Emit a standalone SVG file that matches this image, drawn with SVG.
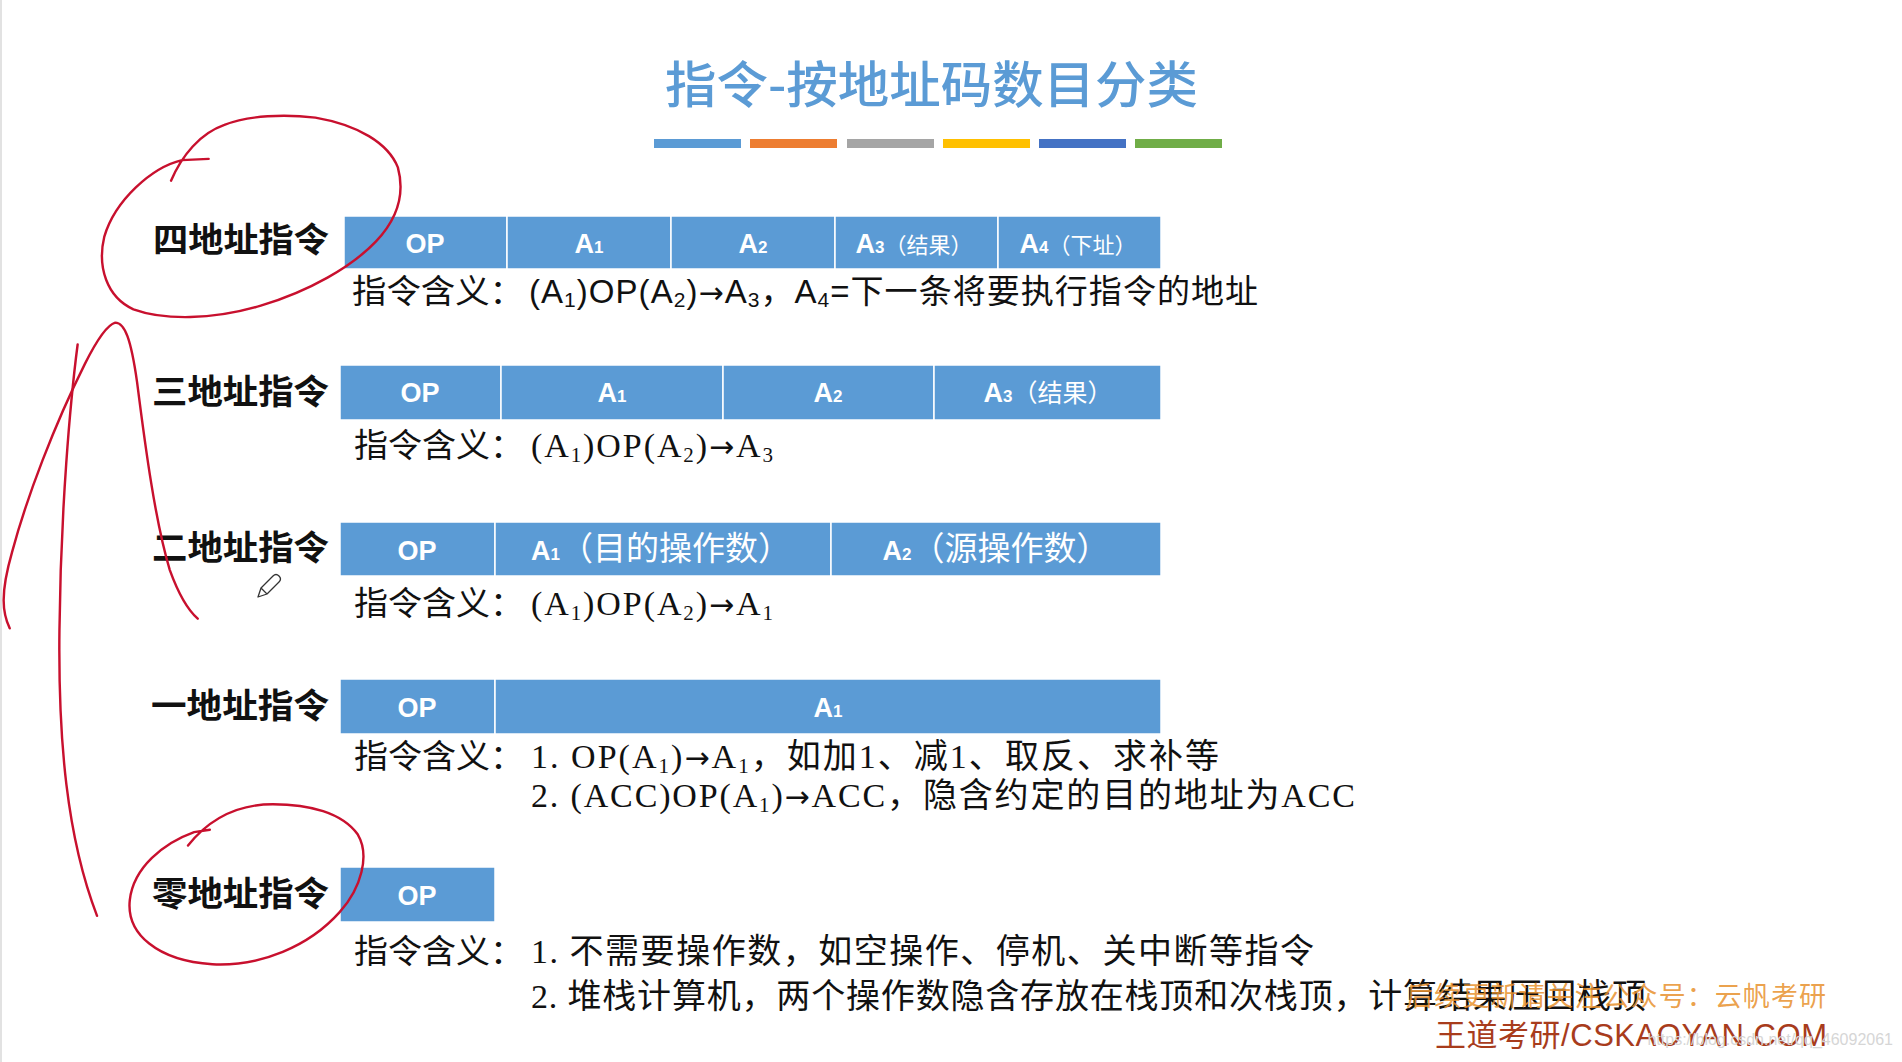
<svg xmlns="http://www.w3.org/2000/svg" width="1902" height="1062" viewBox="0 0 1902 1062">
<style>
.title{font-family:'Noto Sans CJK SC',sans-serif;font-weight:500;font-size:50px;fill:#5b9bd5}
.lbl{font-family:'Noto Sans CJK SC',sans-serif;font-weight:700;font-size:34px;fill:#111}
.cell{fill:#5b9bd5;stroke:#ffffff;stroke-width:1.5}
.ct{font-family:'Liberation Sans','Noto Sans CJK SC',sans-serif;font-weight:700;font-size:27px;fill:#fff;text-anchor:middle}
.cs{font-size:17px}
.cn{font-family:'Noto Sans CJK SC',sans-serif;font-weight:400;font-size:22px}
.cn2{font-family:'Noto Sans CJK SC',sans-serif;font-weight:400;font-size:33px}
.m1{font-family:'Liberation Sans','Noto Sans CJK SC',sans-serif;font-size:33px;fill:#111}
.m{font-family:'Liberation Serif','Noto Sans CJK SC',serif;font-size:34px;fill:#111}
.pre{font-family:'Noto Sans CJK SC',sans-serif;font-size:33px;fill:#111}
.sb{font-size:21px}
.ar{font-family:'DejaVu Sans',sans-serif;font-size:30px}
.ink{fill:none;stroke:#c8102e;stroke-width:2;stroke-linecap:round;stroke-linejoin:round}
</style>
<rect x="0" y="0" width="1902" height="1062" fill="#ffffff"/>
<line x1="1" y1="0" x2="1" y2="1062" stroke="#e2e2e2" stroke-width="2"/>

<g id="title">
<text class="title" x="665" y="103" textLength="533" lengthAdjust="spacingAndGlyphs">指令-按地址码数目分类</text>
<rect x="654" y="139" width="87" height="9" fill="#5b9bd5"/>
<rect x="750" y="139" width="87" height="9" fill="#ed7d31"/>
<rect x="847" y="139" width="87" height="9" fill="#a5a5a5"/>
<rect x="943" y="139" width="87" height="9" fill="#ffc000"/>
<rect x="1039" y="139" width="87" height="9" fill="#4472c4"/>
<rect x="1135" y="139" width="87" height="9" fill="#70ad47"/>
</g>

<g id="row4addr">
<text class="lbl" x="153" y="252" textLength="176" lengthAdjust="spacingAndGlyphs">四地址指令</text>
<rect class="cell" x="344" y="216" width="163" height="53"/>
<rect class="cell" x="507" y="216" width="164" height="53"/>
<rect class="cell" x="671" y="216" width="164" height="53"/>
<rect class="cell" x="835" y="216" width="163" height="53"/>
<rect class="cell" x="998" y="216" width="163" height="53"/>
<text class="ct" x="425" y="253">OP</text>
<text class="ct" x="589" y="253">A<tspan class="cs">1</tspan></text>
<text class="ct" x="753" y="253">A<tspan class="cs">2</tspan></text>
<text class="ct" x="914" y="253">A<tspan class="cs">3</tspan><tspan class="cn">（结果）</tspan></text>
<text class="ct" x="1078" y="253">A<tspan class="cs">4</tspan><tspan class="cn">（下址）</tspan></text>
<text class="pre" x="352" y="303" textLength="172" lengthAdjust="spacingAndGlyphs">指令含义：</text>
<text class="m1" x="529" y="303" textLength="729" lengthAdjust="spacing">(A<tspan class="sb" dy="4">1</tspan><tspan dy="-4">)OP(A</tspan><tspan class="sb" dy="4">2</tspan><tspan dy="-4">)</tspan><tspan class="ar">→</tspan>A<tspan class="sb" dy="4">3</tspan><tspan dy="-4">，A</tspan><tspan class="sb" dy="4">4</tspan><tspan dy="-4">=下一条将要执行指令的地址</tspan></text>
</g>

<g id="row3addr">
<text class="lbl" x="152" y="404" textLength="177" lengthAdjust="spacingAndGlyphs">三地址指令</text>
<rect class="cell" x="340" y="365" width="161" height="55"/>
<rect class="cell" x="501" y="365" width="222" height="55"/>
<rect class="cell" x="723" y="365" width="211" height="55"/>
<rect class="cell" x="934" y="365" width="227" height="55"/>
<text class="ct" x="420" y="402">OP</text>
<text class="ct" x="612" y="402">A<tspan class="cs">1</tspan></text>
<text class="ct" x="828" y="402">A<tspan class="cs">2</tspan></text>
<text class="ct" x="1048" y="402">A<tspan class="cs">3</tspan><tspan class="cn" style="font-size:25px">（结果）</tspan></text>
<text class="pre" x="354" y="457" textLength="170" lengthAdjust="spacingAndGlyphs">指令含义：</text>
<text class="m" x="531" y="457" textLength="242" lengthAdjust="spacing">(A<tspan class="sb" dy="5">1</tspan><tspan dy="-5">)OP(A</tspan><tspan class="sb" dy="5">2</tspan><tspan dy="-5">)</tspan><tspan class="ar">→</tspan>A<tspan class="sb" dy="5">3</tspan></text>
</g>

<g id="row2addr">
<text class="lbl" x="152" y="560" textLength="177" lengthAdjust="spacingAndGlyphs">二地址指令</text>
<rect class="cell" x="340" y="522" width="155" height="54"/>
<rect class="cell" x="495" y="522" width="336" height="54"/>
<rect class="cell" x="831" y="522" width="330" height="54"/>
<text class="ct" x="417" y="560">OP</text>
<text class="ct" x="661" y="560">A<tspan class="cs">1</tspan><tspan class="cn2">（目的操作数）</tspan></text>
<text class="ct" x="996" y="560">A<tspan class="cs">2</tspan><tspan class="cn2">（源操作数）</tspan></text>
<text class="pre" x="354" y="615" textLength="170" lengthAdjust="spacingAndGlyphs">指令含义：</text>
<text class="m" x="531" y="615" textLength="242" lengthAdjust="spacing">(A<tspan class="sb" dy="5">1</tspan><tspan dy="-5">)OP(A</tspan><tspan class="sb" dy="5">2</tspan><tspan dy="-5">)</tspan><tspan class="ar">→</tspan>A<tspan class="sb" dy="5">1</tspan></text>
</g>

<g id="row1addr">
<text class="lbl" x="151" y="718" textLength="178" lengthAdjust="spacingAndGlyphs">一地址指令</text>
<rect class="cell" x="340" y="679" width="155" height="55"/>
<rect class="cell" x="495" y="679" width="666" height="55"/>
<text class="ct" x="417" y="717">OP</text>
<text class="ct" x="828" y="717">A<tspan class="cs">1</tspan></text>
<text class="pre" x="354" y="768" textLength="170" lengthAdjust="spacingAndGlyphs">指令含义：</text>
<text class="m" x="531" y="768" textLength="688" lengthAdjust="spacing">1. OP(A<tspan class="sb" dy="5">1</tspan><tspan dy="-5">)</tspan><tspan class="ar">→</tspan>A<tspan class="sb" dy="5">1</tspan><tspan dy="-5">，如加1、减1、取反、求补等</tspan></text>
<text class="m" x="531" y="807" textLength="824" lengthAdjust="spacing">2. (ACC)OP(A<tspan class="sb" dy="5">1</tspan><tspan dy="-5">)</tspan><tspan class="ar">→</tspan>ACC，隐含约定的目的地址为ACC</text>
</g>

<g id="row0addr">
<text class="lbl" x="152" y="906" textLength="177" lengthAdjust="spacingAndGlyphs">零地址指令</text>
<rect class="cell" x="340" y="867" width="155" height="55"/>
<text class="ct" x="417" y="905">OP</text>
<text class="pre" x="354" y="963" textLength="170" lengthAdjust="spacingAndGlyphs">指令含义：</text>
<text class="m" x="531" y="963" textLength="783" lengthAdjust="spacing">1. 不需要操作数，如空操作、停机、关中断等指令</text>
<text class="m" x="531" y="1008" textLength="1115" lengthAdjust="spacing">2. 堆栈计算机，两个操作数隐含存放在栈顶和次栈顶，计算结果压回栈顶</text>
</g>

<g id="watermark">
<text x="1406" y="1006" font-family="'Noto Sans CJK SC',sans-serif" font-size="27" fill="#e8912e" fill-opacity="0.85" textLength="420" lengthAdjust="spacing">后续更新请关注公众号：云帆考研</text>
<text x="1435" y="1046" font-family="'Liberation Sans','Noto Sans CJK SC',sans-serif" font-size="31" fill="#a83c1c" textLength="392" lengthAdjust="spacing">王道考研/CSKAOYAN.COM</text>
<text x="1893" y="1045" text-anchor="end" font-family="'Liberation Sans',sans-serif" font-size="16" fill="#d6d6d6">https://blog.csdn.net/qq_46092061</text>
</g>

<g id="annotations">
<g transform="scale(1.213)">
<path class="ink" d="M172,131 L150,132 C125,138 95,165 86,195 C80,220 88,245 110,255 C135,264 175,264 215,252 C255,240 290,220 310,199 C328,180 334,160 328,138 C320,118 295,103 260,97 C235,94 205,95 185,103 C165,110 150,128 141,149"/>
<path class="ink" d="M8,518 C2,505 0,490 10,455 C22,410 45,350 70,300 C80,280 88,268 95,266 C103,266 108,280 113,315 C120,370 128,430 140,470 C148,492 155,503 163,510"/>
<path class="ink" d="M64,284 C58,330 50,420 49,520 C48,610 55,690 80,755"/>
<path class="ink" d="M173,684 L160,686 C135,695 110,715 107,742 C104,770 130,792 175,795 C215,797 255,780 280,752 C298,732 305,705 295,688 C282,670 255,663 225,663 C200,663 175,672 155,697"/>
</g>
<path d="M258,597 L261,588 L273,576 Q276,573 279,576 Q282,579 279,582 L267,594 Z M261,588 L267,594" fill="#ffffff" stroke="#333" stroke-width="1.3" stroke-linejoin="round"/>
</g>
</svg>
